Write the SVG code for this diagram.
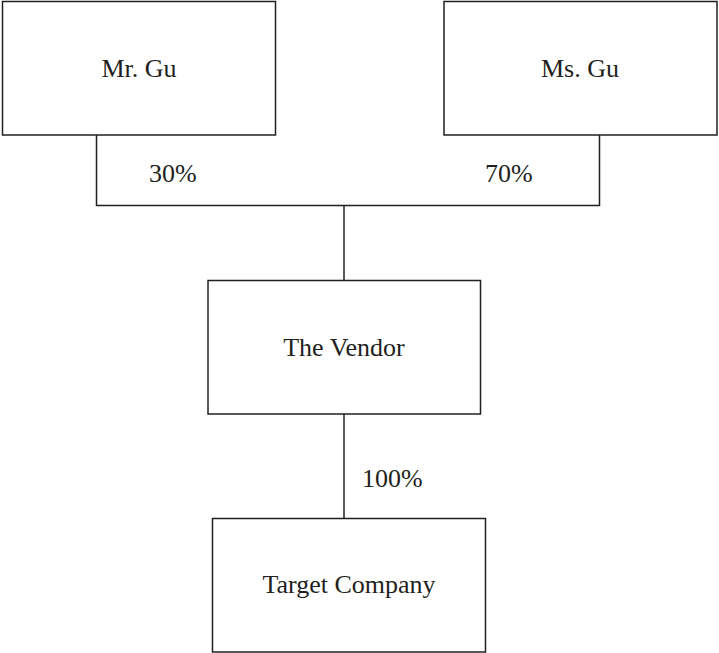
<svg xmlns="http://www.w3.org/2000/svg" width="719" height="653" viewBox="0 0 719 653">
<style>
.box{fill:#fff;stroke:#231f20;stroke-width:1.5}
.con{fill:none;stroke:#231f20;stroke-width:1.5}
text{font-family:"Liberation Serif","Times New Roman",serif;font-size:26px;fill:#231f20}
.c{text-anchor:middle}
</style>
<rect width="719" height="653" fill="#fff"/>
<g id="connectors">
<polyline class="con" points="96.5,135 96.5,205.5 599.5,205.5 599.5,135"/>
<line class="con" x1="344" y1="205.5" x2="344" y2="280.5"/>
<line class="con" x1="344" y1="414" x2="344" y2="518.5"/>
<text x="149" y="181.5">30%</text>
<text x="485" y="181.5">70%</text>
<text x="362" y="487">100%</text>
</g>
<g id="mr-gu">
<rect class="box" x="2.5" y="1.5" width="273" height="133.5"/>
<text class="c" x="139" y="77">Mr. Gu</text>
</g>
<g id="ms-gu">
<rect class="box" x="444" y="1.5" width="273" height="133.5"/>
<text class="c" x="580" y="77">Ms. Gu</text>
</g>
<g id="vendor">
<rect class="box" x="208" y="280.5" width="272.5" height="133.5"/>
<text class="c" x="344" y="355.5">The Vendor</text>
</g>
<g id="target">
<rect class="box" x="212.5" y="518.5" width="273" height="133.5"/>
<text class="c" x="349" y="593">Target Company</text>
</g>
</svg>
